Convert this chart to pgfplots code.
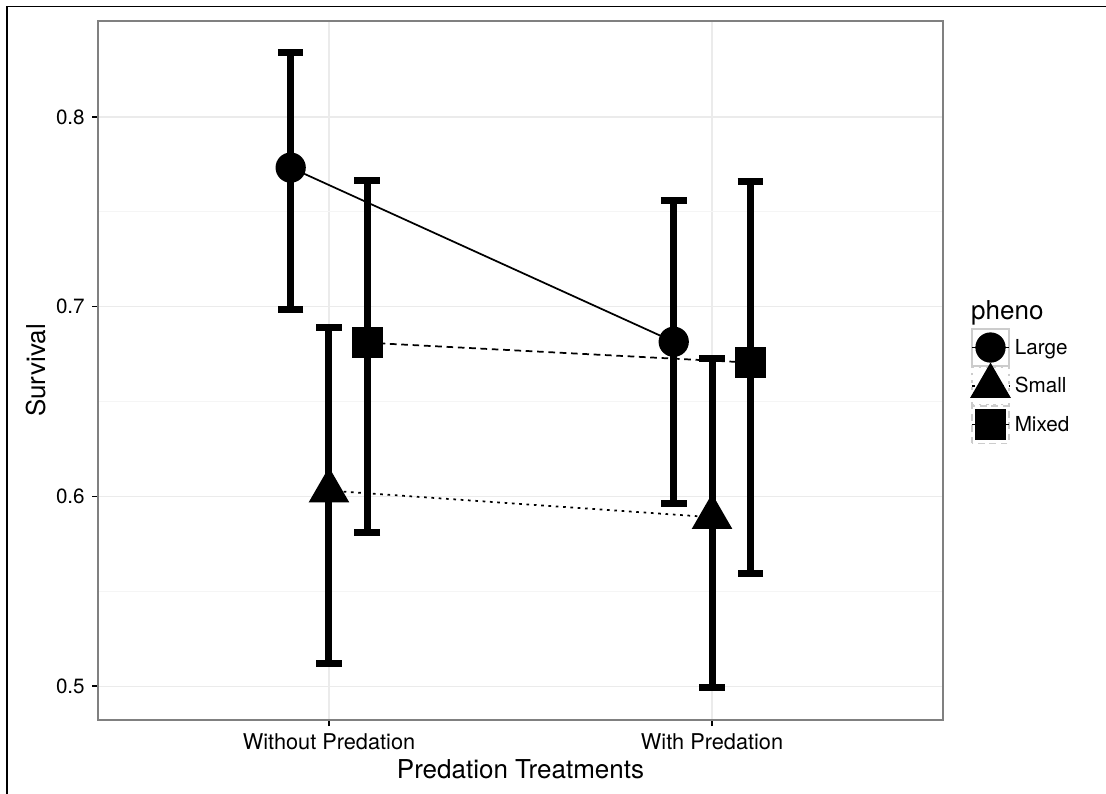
\documentclass[border=0pt]{standalone}
\usepackage{fontspec}
\setmainfont{TeX Gyre Heros}
\usepackage{pgfplots}
\pgfplotsset{compat=1.18}
\usepackage{pgfplotstable}

\pgfplotstableread{
x y hi lo
0.9 0.7733 0.8341 0.6986
1.9 0.6815 0.7562 0.5963
}\tblLarge
\pgfplotstableread{
x y hi lo
1.0 0.6030 0.6891 0.5120
2.0 0.5890 0.6728 0.4990
}\tblSmall
\pgfplotstableread{
x y hi lo
1.1 0.6810 0.7666 0.5810
2.1 0.6705 0.7659 0.5594
}\tblMixed

\newcommand{\tickfont}{\fontsize{15.5}{18}\selectfont}
\newcommand{\xtickfont}{\fontsize{16.3}{19}\selectfont}
\newcommand{\labfont}{\fontsize{19.5}{22}\selectfont}

\begin{document}
\begin{tikzpicture}
\path[use as bounding box] (0pt,0pt) rectangle (829.5pt,594.75pt);
\draw[line width=1pt] (5.25pt,-2pt) -- (5.25pt,589.9pt) -- (832pt,589.9pt);
\begin{axis}[
  at={(73.5pt,54.75pt)}, anchor=south west,
  scale only axis, width=633.75pt, height=524.25pt,
  xmin=0.397, xmax=2.603, ymin=0.4821, ymax=0.8506,
  xtick={1,2}, xticklabels={Without Predation, With Predation},
  ytick={0.5,0.6,0.7,0.8}, yticklabels={0.5,0.6,0.7,0.8},
  minor ytick={0.55,0.65,0.75},
  grid=both,
  major grid style={color=black!8, line width=0.8pt},
  minor grid style={color=black!4, line width=0.8pt},
  axis line style={color=black!50, line width=1pt},
  tick align=outside, tick pos=left,
  major tick length=4.5pt, minor tick length=0pt,
  tick style={black, line width=0.9pt},
  /pgf/number format/assume math mode=true,
  xticklabel style={font=\xtickfont, anchor=north, inner sep=0pt, yshift=-5.25pt},
  yticklabel style={font=\tickfont, anchor=east, inner sep=0pt, xshift=-5.25pt},
  xlabel={Predation Treatments}, ylabel={Survival},
  xlabel style={font=\labfont, at={(axis description cs:0.5,-0.083)}, anchor=base, inner sep=0pt},
  ylabel style={font=\labfont, at={(axis description cs:-0.0734,0.5)}, anchor=center, inner sep=0pt},
  legend image code/.code={
    \draw[draw=black!20, fill=white, line width=1pt] (-13.95pt,-13.95pt) rectangle (13.95pt,13.95pt);
    \draw[#1, mark=none, overlay] (-13.95pt,0pt) -- (13.95pt,0pt);
    \draw[#1, only marks, overlay] plot coordinates {(0pt,0pt)};
  },
  legend style={name=leg, at={(axis description cs:1.0331,0.5608)}, anchor=north west,
    draw=none, fill=none, row sep=0pt, column sep=3.75pt, inner sep=0pt,
    nodes={inner sep=0pt}, font=\tickfont},
  legend cell align=left,
  error bars/y dir=both, error bars/y explicit,
  error bars/error mark=|,
  error bars/error bar style={line width=5.25pt, black, solid},
  error bars/error mark options={line width=5.25pt, mark size=9.6pt, black, solid},
]
\addplot[black, line width=1.3pt, solid, mark=*, mark size=10.7pt, mark options={solid, fill=black}]
  table[x=x, y=y, y error plus expr=\thisrow{hi}-\thisrow{y}, y error minus expr=\thisrow{y}-\thisrow{lo}] {\tblLarge};
\addlegendentry{Large}
\addplot[black, line width=1.3pt, dash pattern=on 2pt off 3.5pt, mark=triangle*, mark size=16.3pt, mark options={solid, fill=black}]
  table[x=x, y=y, y error plus expr=\thisrow{hi}-\thisrow{y}, y error minus expr=\thisrow{y}-\thisrow{lo}] {\tblSmall};
\addlegendentry{Small}
\addplot[black, line width=1.3pt, dash pattern=on 5pt off 3.5pt, mark=square*, mark size=11pt, mark options={solid, fill=black}]
  table[x=x, y=y, y error plus expr=\thisrow{hi}-\thisrow{y}, y error minus expr=\thisrow{y}-\thisrow{lo}] {\tblMixed};
\addlegendentry{Mixed}
\end{axis}
\node[anchor=base west, inner sep=0pt, font=\labfont] at ([yshift=6.5pt]leg.north west) {pheno};
\end{tikzpicture}
\end{document}
